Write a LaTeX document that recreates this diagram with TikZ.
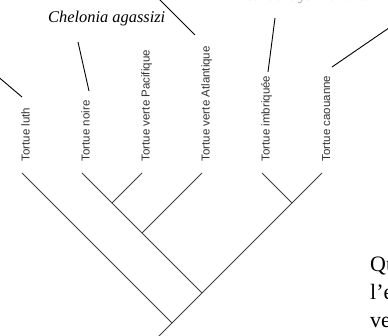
\documentclass[tikz,border=0pt]{standalone}
\usepackage{fontspec}
\setmainfont{Liberation Serif}
\setsansfont{Liberation Sans}
\usepackage{tikz}

\tikzset{
  leaf/.style={rotate=90, anchor=base west, inner sep=0pt, text=black!80,
    font=\sffamily\fontsize{11.5}{13}\selectfont},
  branch/.style={line width=0.9pt, black!75},
  pointer/.style={line width=0.9pt, black},
  latin/.style={anchor=base west, inner sep=0pt, font=\itshape\fontsize{16.4}{19}\selectfont},
  question/.style={anchor=base west, inner sep=0pt, font=\fontsize{22}{26}\selectfont}
}

\begin{document}
\begin{tikzpicture}[x=1pt, y=-1pt]
\useasboundingbox (0,0) rectangle (388,336);
\clip (0,0) rectangle (388,336);

\coordinate (luth) at (22,173);
\coordinate (noire) at (82,173);
\coordinate (pac) at (142,173);
\coordinate (atl) at (202,173);
\coordinate (imb) at (262,173);
\coordinate (cao) at (322,173);
\coordinate (npac) at (112,203);
\coordinate (natl) at (142,233);
\coordinate (nvert) at (202,293);
\coordinate (ncao) at (292,203);
\coordinate (root) at (172,323);
\coordinate (stem) at (150,345);

\node[leaf] at (29.5,161.5) (tluth) {Tortue luth};
\node[leaf] at (89.5,161.5) (tnoire) {Tortue noire};
\node[leaf] at (149.5,161.5) (tpac) {Tortue verte Pacifique};
\node[leaf] at (209.5,161.5) (tatl) {Tortue verte Atlantique};
\node[leaf] at (269.5,161.5) (timb) {Tortue imbriquée};
\node[leaf] at (330,161.5) (tcao) {Tortue caouanne};

\node[latin] at (48,22.5) (agassizi) {Chelonia agassizi};
\node[latin, text=black!45, font=\itshape\fontsize{14.5}{17}\selectfont] at (233,0.5) (imbricata) {Eretmochelys imbricata};

\node[question] at (370,271.5) (q1) {Quelle};
\node[question] at (370,299.5) (q2) {l’espèce};
\node[question] at (370,327) (q3) {verte};

\draw[branch] (luth) -- (root);
\draw[branch] (cao) -- (root) -- (stem);
\draw[branch] (noire) -- (nvert);
\draw[branch] (pac) -- (npac);
\draw[branch] (atl) -- (natl);
\draw[branch] (imb) -- (ncao);

\coordinate (pluth1) at (22,97);
\coordinate (pluth2) at (-11,69);
\coordinate (pnoire1) at (89,91);
\coordinate (pnoire2) at (78,42);
\coordinate (patl1) at (195,35);
\coordinate (patl2) at (150,-10);
\coordinate (pimb1) at (268,72);
\coordinate (pimb2) at (275,18);
\coordinate (pcao1) at (332,67);
\coordinate (pcao2) at (402,19);
\draw[pointer] (pluth1) -- (pluth2);
\draw[pointer] (pnoire1) -- (pnoire2);
\draw[pointer] (patl1) -- (patl2);
\draw[pointer] (pimb1) -- (pimb2);
\draw[pointer] (pcao1) -- (pcao2);
\end{tikzpicture}
\end{document}
